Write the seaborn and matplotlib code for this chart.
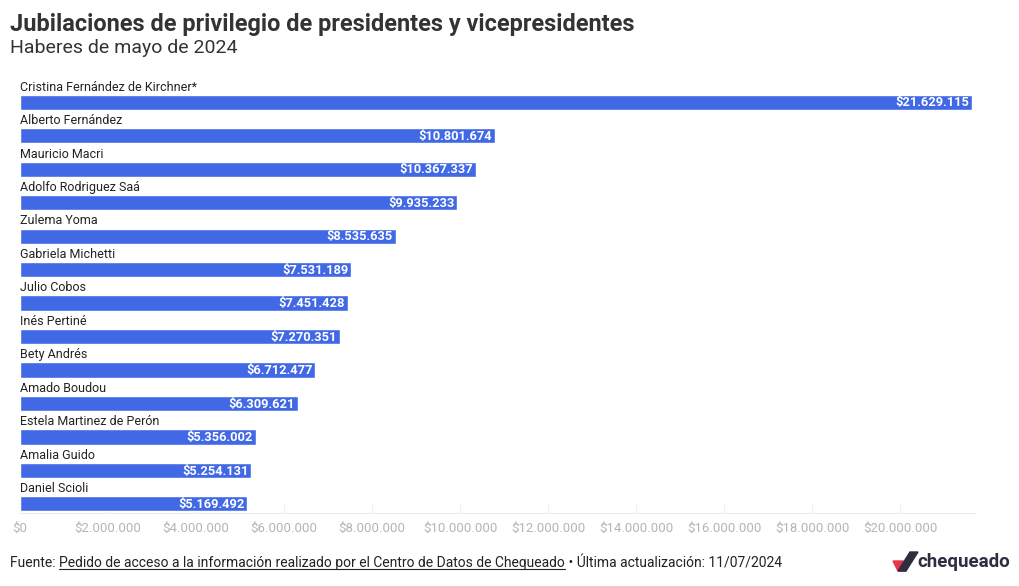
import matplotlib
matplotlib.use("Agg")
import matplotlib.pyplot as plt
import seaborn as sns
import pandas as pd
from matplotlib.patches import Polygon

names = ["Cristina Fernández de Kirchner*", "Alberto Fernández", "Mauricio Macri",
         "Adolfo Rodriguez Saá", "Zulema Yoma", "Gabriela Michetti", "Julio Cobos",
         "Inés Pertiné", "Bety Andrés", "Amado Boudou", "Estela Martinez de Perón",
         "Amalia Guido", "Daniel Scioli"]
haberes = [21629115, 10801674, 10367337, 9935233, 8535635, 7531189, 7451428,
           7270351, 6712477, 6309621, 5356002, 5254131, 5169492]
ticks = [0, 2000000, 4000000, 6000000, 8000000, 10000000, 12000000, 14000000,
         16000000, 18000000, 20000000]

BAR = "#4169e6"
FONT = ["Roboto", "DejaVu Sans"]


def peso(v):
    return "$" + f"{v:,.0f}".replace(",", ".")


sns.set_style("white")
plt.rcParams["font.family"] = FONT

df = pd.DataFrame({"name": names, "haber": haberes})

fig = plt.figure(figsize=(10.2, 5.86), dpi=100)
W, H = 1020, 586
ax = fig.add_axes([20 / W, 73 / H, (975 - 20) / W, (513 - 80) / H])

sns.barplot(data=df, x="haber", y="name", color=BAR, width=0.45, saturation=1,
            ax=ax, orient="h")

ax.set_xlim(0, max(haberes) * 1.0035)
ax.set_ylim(len(names) - 1 + 0.27, -0.66)
ax.set_xlabel("")
ax.set_ylabel("")
ax.set_yticks([])
ax.set_xticks(ticks)
ax.set_xticklabels([peso(t) for t in ticks], color="#b5b5b5", fontsize=9.5)
ax.tick_params(axis="x", length=0, pad=6)
for s in ["top", "right", "left"]:
    ax.spines[s].set_visible(False)
ax.spines["bottom"].set_color("#ececec")
ax.spines["bottom"].set_linewidth(0.8)
for t in ticks[1:]:
    ax.axvline(t, ymin=0, ymax=0.02, color="#f0f0f0", lw=0.8, zorder=0)

for i, (n, v) in enumerate(zip(names, haberes)):
    ax.text(0, i - 0.45, n, ha="left", va="center", fontsize=9, color="#222222")
    ax.text(v - max(haberes) * 0.003, i + 0.02, peso(v), ha="right", va="center",
            fontsize=9.3, color="white", fontweight="bold")

fig.text(10 / W, 1 - 24 / H, "Jubilaciones de privilegio de presidentes y vicepresidentes",
         fontsize=16.9, fontweight="bold", color="#333333", va="center", ha="left")
fig.text(10 / W, 1 - 48 / H, "Haberes de mayo de 2024", fontsize=14, color="#333333",
         va="center", ha="left")

# footer with underlined source
fy = 1 - 563 / H
t1 = fig.text(10 / W, fy, "Fuente: ", fontsize=10, color="#222222", va="center")
fig.canvas.draw()
r = fig.canvas.get_renderer()
bb = t1.get_window_extent(r)
t2 = fig.text(bb.x1 / W, fy, "Pedido de acceso a la información realizado por el Centro de Datos de Chequeado",
              fontsize=10, color="#222222", va="center")
bb2 = t2.get_window_extent(r)
fig.add_artist(plt.Line2D([bb2.x0 / W, bb2.x1 / W], [(bb2.y0 + 1) / H] * 2,
                          color="#222222", lw=0.8))
fig.text(bb2.x1 / W, fy, " • Última actualización: 11/07/2024", fontsize=10,
         color="#222222", va="center")

# logo
lx, ly = 893, 563
fig.add_artist(Polygon([[(lx) / W, 1 - (ly - 2) / H], [(lx + 10) / W, 1 - (ly - 2) / H],
                        [(lx + 13) / W, 1 - (ly + 8) / H], [(lx + 5) / W, 1 - (ly + 8) / H]],
                       closed=True, color="#e8344e", transform=fig.transFigure))
fig.add_artist(Polygon([[(lx + 5) / W, 1 - (ly + 8) / H], [(lx + 13) / W, 1 - (ly + 8) / H],
                        [(lx + 25) / W, 1 - (ly - 11) / H], [(lx + 17) / W, 1 - (ly - 11) / H]],
                       closed=True, color="#2d2e3f", transform=fig.transFigure))
fig.text((lx + 24) / W, 1 - (ly - 1) / H, "chequeado", fontsize=13.5, fontweight="bold",
         color="#2d2e3f", va="center", ha="left")

fig.savefig("out.png", dpi=100, facecolor="white")
